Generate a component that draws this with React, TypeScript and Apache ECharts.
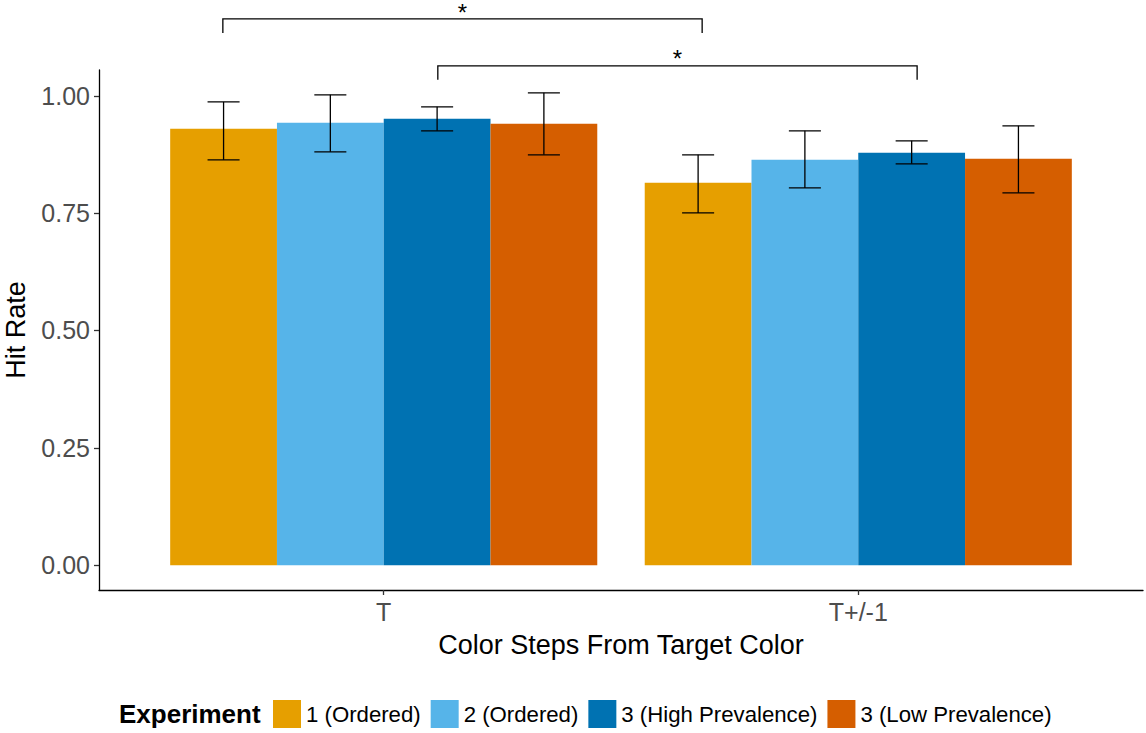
import React, { useEffect, useRef } from 'react';
import * as echarts from 'echarts';

const categories = ['T', 'T+/-1'];
const categoryPositions = [1, 2];
const experiments = ['1 (Ordered)', '2 (Ordered)', '3 (High Prevalence)', '3 (Low Prevalence)'];
const colors = ['#E69F00', '#56B4E9', '#0072B2', '#D55E00'];

const hitRateExp1 = [0.9296, 0.8145];
const lowerExp1 = [0.8635, 0.7505];
const upperExp1 = [0.987, 0.8742];

const hitRateExp2 = [0.9424, 0.8635];
const lowerExp2 = [0.8806, 0.8038];
const upperExp2 = [1.0021, 0.9254];

const hitRateExp3High = [0.951, 0.8785];
const lowerExp3High = [0.9254, 0.855];
const upperExp3High = [0.9765, 0.904];

const hitRateExp3Low = [0.9403, 0.8657];
const lowerExp3Low = [0.8742, 0.7932];
const upperExp3Low = [1.0064, 0.936];

const yTicks = [0, 0.25, 0.5, 0.75, 1.0];

// significance brackets (data units)
const bracketStart = [0.661, 1.114];
const bracketEnd = [1.671, 2.124];
const bracketTop = [1.164, 1.064];
const bracketLeg = [1.134, 1.034];
const bracketLabelTop = [1.203, 1.106];
const bracketLabel = ['*', '*'];

const hitRates = [hitRateExp1, hitRateExp2, hitRateExp3High, hitRateExp3Low];
const lowers = [lowerExp1, lowerExp2, lowerExp3High, lowerExp3Low];
const uppers = [upperExp1, upperExp2, upperExp3High, upperExp3Low];

const FONT = '"Liberation Sans", Arial, sans-serif';
const DODGE = 0.9;
const N = experiments.length;
const BW = DODGE / N;
const CAP = BW * 0.3 / 2;

export default function App() {
  const ref = useRef<HTMLDivElement>(null);
  useEffect(() => {
    document.body.style.margin = '0';
    const chart = echarts.init(ref.current!, null, { renderer: 'svg' });

    const barSeries = experiments.map((name, i) => ({
      type: 'custom',
      name,
      clip: false,
      itemStyle: { color: colors[i] },
      encode: { x: 0, y: 1 },
      data: categoryPositions.map((p, k) => [p, hitRates[i][k], lowers[i][k], uppers[i][k]]),
      renderItem: (params: any, api: any) => {
        const pos = api.value(0);
        const val = api.value(1);
        const lo = api.value(2);
        const hi = api.value(3);
        const x0 = pos - DODGE / 2 + i * BW;
        const x1 = x0 + BW;
        const xc = x0 + BW / 2;
        const p0 = api.coord([x0, val]);
        const p1 = api.coord([x1, 0]);
        const top = api.coord([xc, hi]);
        const bot = api.coord([xc, lo]);
        const cl = api.coord([xc - CAP, hi])[0];
        const cr = api.coord([xc + CAP, hi])[0];
        const ls = { stroke: '#000', lineWidth: 1.3 };
        return {
          type: 'group',
          children: [
            {
              type: 'rect',
              shape: { x: p0[0], y: p0[1], width: p1[0] - p0[0], height: p1[1] - p0[1] },
              style: { fill: colors[i] },
            },
            { type: 'line', shape: { x1: top[0], y1: top[1], x2: bot[0], y2: bot[1] }, style: ls },
            { type: 'line', shape: { x1: cl, y1: top[1], x2: cr, y2: top[1] }, style: ls },
            { type: 'line', shape: { x1: cl, y1: bot[1], x2: cr, y2: bot[1] }, style: ls },
          ],
        };
      },
    }));

    const bracketSeries = {
      type: 'custom',
      name: 'significance',
      clip: false,
      silent: true,
      encode: { x: 0, y: 2 },
      data: bracketStart.map((s, k) => [s, bracketEnd[k], bracketTop[k], bracketLeg[k], bracketLabelTop[k], k]),
      renderItem: (params: any, api: any) => {
        const s = api.value(0);
        const e = api.value(1);
        const t = api.value(2);
        const l = api.value(3);
        const ly = api.value(4);
        const k = api.value(5);
        const a = api.coord([s, l]);
        const b = api.coord([s, t]);
        const c = api.coord([e, t]);
        const d = api.coord([e, l]);
        const m = api.coord([(s + e) / 2, ly]);
        return {
          type: 'group',
          children: [
            {
              type: 'polyline',
              shape: { points: [a, b, c, d] },
              style: { stroke: '#000', lineWidth: 1.3, fill: 'none' },
            },
            {
              type: 'text',
              x: m[0],
              y: Math.max(m[1], 0),
              style: {
                text: bracketLabel[k],
                fontSize: 24,
                fontFamily: FONT,
                fill: '#000',
                align: 'center',
                verticalAlign: 'top',
                textAlign: 'center',
                textVerticalAlign: 'top',
              },
            },
          ],
        };
      },
    };

    chart.setOption({
      animation: false,
      backgroundColor: '#fff',
      textStyle: { fontFamily: FONT },
      grid: { left: 99, right: 3, top: 70, bottom: 143, containLabel: false, outerBoundsMode: 'none' },
      xAxis: {
        type: 'value',
        min: 0.4,
        max: 2.6,
        name: 'Color Steps From Target Color',
        nameLocation: 'middle',
        nameGap: 41,
        nameTextStyle: { fontSize: 27, color: '#000', fontFamily: FONT },
        axisLine: { show: true, onZero: false, lineStyle: { color: '#000', width: 1.3 } },
        axisTick: { show: true, length: 5, customValues: categoryPositions, lineStyle: { color: '#333', width: 1.3 } },
        axisLabel: {
          customValues: categoryPositions,
          formatter: (v: number) => categories[categoryPositions.indexOf(Math.round(v))] ?? '',
          fontSize: 25,
          color: '#4D4D4D',
          margin: 9,
          fontFamily: FONT,
        },
        splitLine: { show: false },
      },
      yAxis: {
        type: 'value',
        min: -0.053,
        max: 1.055,
        name: 'Hit Rate',
        nameLocation: 'middle',
        nameRotate: 90,
        nameGap: 70,
        nameTextStyle: { fontSize: 27, color: '#000', fontFamily: FONT },
        axisLine: { show: true, onZero: false, lineStyle: { color: '#000', width: 1.3 } },
        axisTick: { show: true, length: 5, customValues: yTicks, lineStyle: { color: '#333', width: 1.3 } },
        axisLabel: {
          customValues: yTicks,
          formatter: (v: number) => v.toFixed(2),
          fontSize: 25,
          color: '#4D4D4D',
          margin: 9,
          fontFamily: FONT,
        },
        splitLine: { show: false },
      },
      legend: {
        data: experiments.map((name) => ({ name, icon: 'rect' })),
        left: 273,
        top: 700,
        padding: 0,
        itemWidth: 28,
        itemHeight: 28,
        itemGap: 10,
        textStyle: { fontSize: 22.2, color: '#000', fontFamily: FONT },
      },
      graphic: [
        {
          type: 'text',
          left: 119,
          top: 701,
          style: { text: 'Experiment', fontSize: 26, fontWeight: 'bold', fill: '#000', fontFamily: FONT },
        },
      ],
      series: [...barSeries, bracketSeries],
    });
    return () => chart.dispose();
  }, []);
  return <div ref={ref} style={{ width: 1146, height: 733 }} />;
}
